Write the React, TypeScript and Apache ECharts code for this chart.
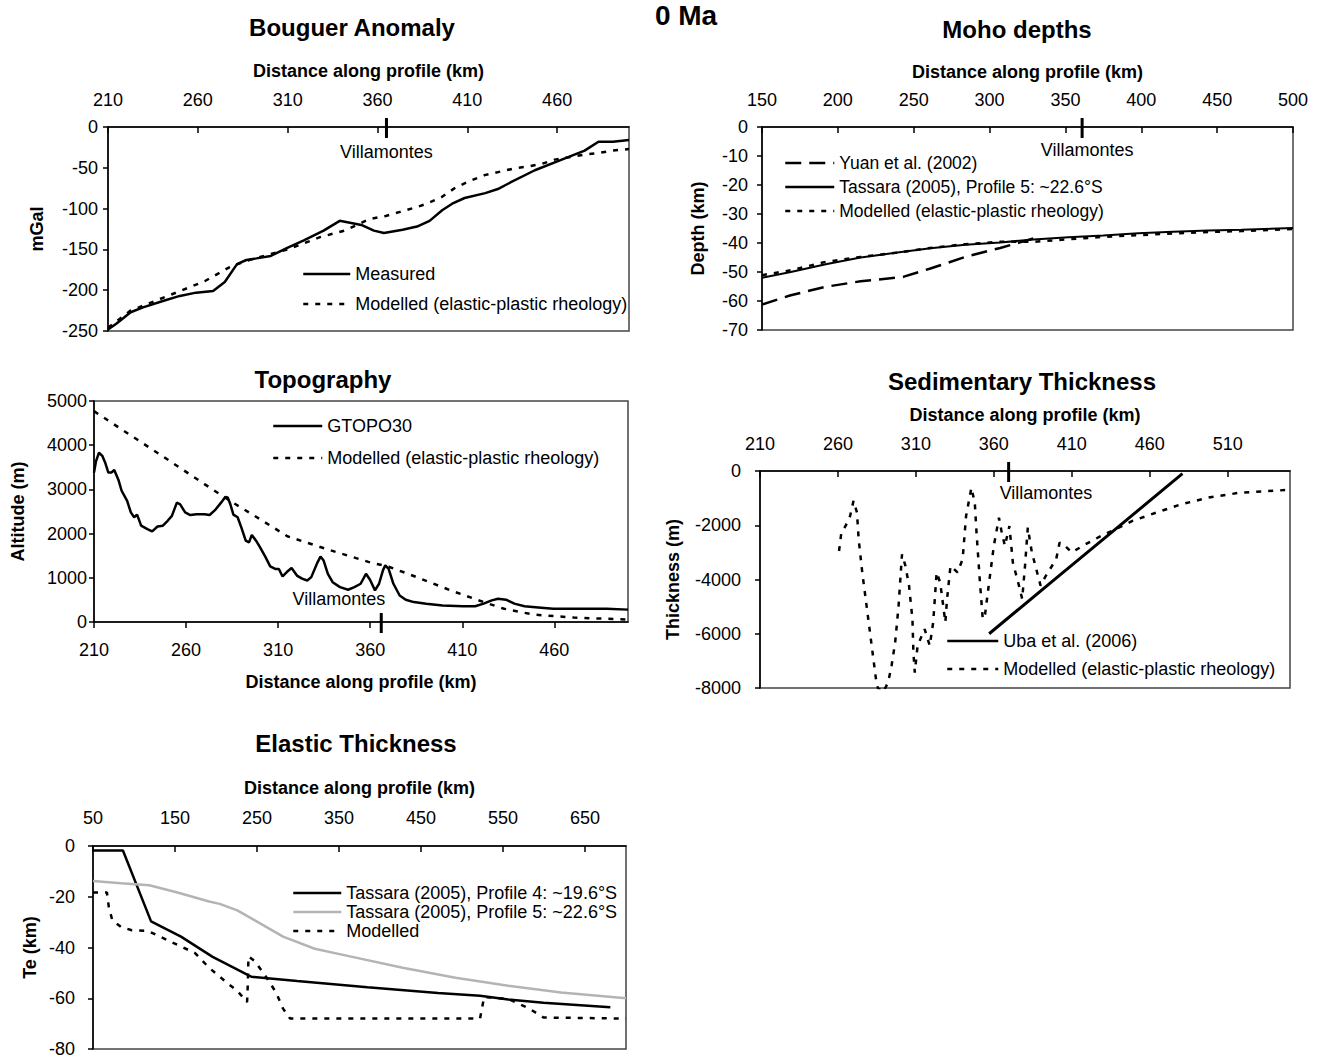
import React, { useEffect, useRef } from 'react';
import * as echarts from 'echarts';

const FONT = '"Liberation Sans", Arial, Helvetica, sans-serif';
const BLACK = '#000';

const MODELLED = 'Modelled (elastic-plastic rheology)';
const T5 = 'Tassara (2005), Profile 5: ~22.6°S';
const T4 = 'Tassara (2005), Profile 4: ~19.6°S';

// ---------------- Bouguer anomaly (km, mGal) ----------------
const bouguerMeasured = [
  [210, -248], [214.6, -241], [222.6, -227], [229.5, -221], [241, -213], [250, -207], [259, -203],
  [268.5, -201], [275, -190], [281.8, -168], [287, -163], [292.6, -161], [300.6, -158], [309.8, -148],
  [319, -139], [330, -127], [339, -115], [351, -120], [358, -127], [363.6, -130], [374, -126],
  [382, -122], [389, -115], [396, -102], [401.6, -94], [408.5, -87], [420, -81], [427, -76],
  [434, -68], [447.6, -53], [461.5, -41], [475.3, -29], [483, -18], [491, -18], [500, -16],
];
const bouguerModelled = [
  [210, -246], [222.6, -225], [245.6, -205], [263.8, -189], [277.5, -172], [287, -164], [310, -150],
  [328, -135], [341.7, -127], [355.4, -113], [364.6, -109], [372.6, -104], [380.6, -99], [387.5, -94],
  [395.6, -86], [403.6, -74], [411.6, -66], [419.6, -59], [427.7, -55], [435.7, -51], [444.9, -48],
  [451.7, -45], [458.6, -40], [466.6, -37], [474.7, -34], [482.7, -32], [490.7, -29], [500, -27],
];

// ---------------- Moho depths (km, km) ----------------
const mohoYuan = [
  [150, -61.2], [169, -58], [192, -55.1], [215, -53.2], [243, -51.7], [261, -48.8], [284, -44.8],
  [307, -41.7], [320, -39.8], [329, -38.4], [331, -37.6],
];
const mohoTassara = [
  [150, -52], [169, -50], [192, -47.3], [215, -45], [238, -43.4], [261, -41.8], [284, -40.6],
  [307, -39.8], [329, -38.8], [352, -38], [375, -37.4], [398, -36.6], [421, -36.1], [444, -35.7],
  [466, -35.4], [500, -34.8],
];
const mohoModelled = [
  [150, -51.1], [169, -49.4], [192, -46.5], [215, -44.8], [238, -43.4], [261, -41.7], [284, -40.4],
  [307, -39.6], [329, -39.6], [352, -38.7], [375, -37.9], [398, -37.3], [421, -36.7], [444, -36.2],
  [466, -35.9], [500, -35.2],
];

// ---------------- Topography (km, m) ----------------
const topoGtopo = [
  [210, 3380], [211.1, 3640], [212.7, 3830], [214.5, 3760], [216.2, 3590], [217.8, 3380], [219.4, 3380],
  [221, 3440], [223.4, 3200], [225, 2970], [228, 2740], [230, 2480], [231.8, 2370], [233.4, 2430],
  [235.6, 2180], [239, 2100], [241.6, 2050], [244.5, 2160], [247.4, 2180], [250, 2290], [252.3, 2400],
  [255, 2700], [256.8, 2660], [259.5, 2480], [262.3, 2420], [265.7, 2440], [270, 2440], [272.8, 2420],
  [275.7, 2530], [279, 2700], [281.3, 2830], [282.6, 2820], [284, 2670], [285.7, 2430], [288, 2370],
  [290, 2140], [292.4, 1840], [294.2, 1800], [295.7, 1970], [298, 1840], [300.2, 1690], [303, 1480],
  [305.7, 1260], [308.4, 1200], [310.4, 1200], [312.4, 1030], [314.7, 1130], [317.3, 1220], [320.2, 1050],
  [323, 980], [325.8, 940], [328, 1015], [331.4, 1350], [333, 1480], [334.7, 1390], [337, 1090],
  [339.6, 900], [343.6, 790], [348, 730], [351.4, 790], [354.8, 865], [357.7, 1090], [359.9, 955],
  [362.6, 715], [364.8, 865], [367, 1180], [368.2, 1280], [370, 1200], [372.6, 865], [376, 600],
  [379.3, 505], [383.7, 450], [390.4, 415], [399.3, 375], [410.4, 355], [417, 355], [421.6, 415],
  [426, 490], [429.4, 525], [433.8, 505], [438.3, 415], [443.8, 355], [452.8, 325], [459.4, 300],
  [470.6, 300], [488.4, 300], [500, 280],
];
const topoModelled = [
  [210, 4770], [226, 4330], [248, 3730], [270, 3120], [283.5, 2750], [300, 2330], [315, 1940],
  [337, 1640], [359, 1360], [370, 1250], [381.5, 1075], [403.7, 715], [421.6, 450], [432.7, 300],
  [448.3, 170], [470.6, 100], [500, 55],
];

// ---------------- Sedimentary thickness (km, m) ----------------
const sedUba = [
  [357, -6000], [400, -3950], [440, -2050], [481, -100],
];
const sedModelled = [
  [260.7, -2950], [262.2, -2270], [264.9, -2025], [267.8, -1660], [270, -1100], [272.2, -1530],
  [273.3, -2520], [275.6, -3740], [277.8, -4720], [280, -5700], [282.2, -6690], [284.4, -7670],
  [285.6, -8000], [289, -8150], [292.2, -7790], [294.4, -7180], [296.7, -6320], [298.9, -4970],
  [301.1, -3070], [303.3, -3500], [305.6, -4230], [307.8, -5460], [308.4, -6690], [309.3, -7430],
  [311.1, -6440], [315.6, -5830], [318.9, -6440], [321.1, -5580], [323.3, -3740], [325.6, -4110],
  [327.8, -5090], [328.9, -5580], [330, -4720], [332.2, -3500], [336.7, -3740], [340, -3250],
  [342.2, -1660], [345.6, -620], [347.8, -1170], [348.9, -2270], [351.1, -4110], [352.9, -5460],
  [354.4, -5280], [356.7, -4230], [360, -2760], [363.3, -1720], [364.9, -2210], [367.1, -2760],
  [370, -2030], [372.2, -3370], [376.7, -4350], [378.2, -4720], [380, -3500], [381.8, -2090],
  [384.4, -3000], [387.8, -3740], [390, -4230], [393, -3900], [400, -3250], [402.2, -2640],
  [405.6, -2760], [410, -3000], [418.9, -2700], [428.9, -2390], [437.8, -2150], [448.9, -1840],
  [464.4, -1530], [480, -1230], [497.8, -980], [517.8, -800], [548, -700],
];

// ---------------- Elastic thickness (km, km) ----------------
const teProfile4 = [
  [50, -1.8], [86.5, -1.8], [120.8, -29.7], [157.3, -35.7], [195.9, -43.7], [241, -51.2], [243, -51.5],
  [298.9, -53.2], [384.7, -55.7], [470.6, -57.9], [522, -59], [556.4, -60.5], [599.3, -61.8], [680.9, -63.5],
];
const teProfile5 = [
  [50, -13.8], [84.3, -14.7], [118.7, -15.5], [153, -18.3], [191.6, -21.9], [204.5, -22.8], [226, -25.4],
  [247.4, -29.3], [281.8, -35.7], [320.4, -40.5], [363.4, -43.5], [427.7, -48], [492.1, -51.9],
  [556.4, -55.1], [620.8, -57.7], [700, -60],
];
const teModelled = [
  [50, -18.3], [67, -18.3], [69.3, -24.1], [73.6, -29.3], [84.3, -31.9], [97.2, -33.2], [116.5, -33.4],
  [131.5, -35.7], [157.3, -39.6], [174.5, -42.2], [191.6, -48], [213, -53.8], [225.9, -57.1],
  [237.9, -61.5], [238.8, -54.5], [239.6, -43.5], [247.4, -45.4], [260.3, -51.2], [273.2, -57.7],
  [281.8, -64.1], [290.3, -68], [522, -68], [527, -59.5], [556.4, -60.3], [582.2, -64.1],
  [599.3, -67.6], [700, -68],
];

// Villamontes positions (km)
const villamontesKm = { bouguer: 365, moho: 361, topo: 366, sed: 369.5 };

const solidLine = { color: BLACK, width: 2.5, type: 'solid' };
const dottedLine = { color: BLACK, width: 2.5, type: [5, 7] };
const dashedLine = { color: BLACK, width: 2.5, type: [16, 8] };
const grayLine = { color: '#b4b4b4', width: 2.5, type: 'solid' };

function mkX(gridIndex: number, position: string, min: number, max: number, interval: number,
  margin: number, nameGap: number, showMaxLabel: boolean, inside: boolean) {
  return {
    type: 'value', gridIndex, position, min, max, interval,
    name: 'Distance along profile (km)', nameLocation: 'middle', nameGap,
    nameTextStyle: { fontFamily: FONT, fontSize: 18, fontWeight: 'bold', color: BLACK },
    axisLine: { show: true, onZero: false, lineStyle: { color: BLACK, width: 1.5 } },
    axisTick: { show: true, inside, length: 6, lineStyle: { color: BLACK, width: 1.5 } },
    axisLabel: {
      margin, fontFamily: FONT, fontSize: 18, color: BLACK, showMaxLabel, showMinLabel: true,
      formatter: (v: number) => String(v),
    },
    splitLine: { show: false },
  };
}

function mkY(gridIndex: number, min: number, max: number, interval: number, name: string,
  margin: number, nameGap: number) {
  return {
    type: 'value', gridIndex, position: 'left', min, max, interval,
    name, nameLocation: 'middle', nameGap, nameRotate: 90,
    nameTextStyle: { fontFamily: FONT, fontSize: 18, fontWeight: 'bold', color: BLACK },
    axisLine: { show: true, onZero: false, lineStyle: { color: BLACK, width: 1.5 } },
    axisTick: { show: true, inside: false, length: 5, lineStyle: { color: BLACK, width: 1.5 } },
    axisLabel: {
      margin, fontFamily: FONT, fontSize: 18, color: BLACK,
      formatter: (v: number) => String(v),
    },
    splitLine: { show: false },
  };
}

function villa(x: number, offset: number[], align: string) {
  return {
    silent: true,
    animation: false,
    data: [
      {
        coord: [x, 0], symbol: 'rect', symbolSize: [3, 20], symbolOffset: [0, 1],
        itemStyle: { color: BLACK }, label: { show: false },
      },
      {
        coord: [x, 0], symbol: 'circle', symbolSize: 1,
        itemStyle: { color: 'rgba(0,0,0,0)' },
        label: {
          show: true, position: 'inside', formatter: 'Villamontes', offset, align,
          verticalAlign: 'middle', fontFamily: FONT, fontSize: 18, color: BLACK,
        },
      },
    ],
  };
}

function line(name: string, xi: number, data: number[][], style: any, extra: any = {}) {
  return {
    type: 'line', name, xAxisIndex: xi, yAxisIndex: xi, data,
    symbol: 'none', showSymbol: false, clip: true,
    lineStyle: style, itemStyle: { color: style.color },
    emphasis: { disabled: true },
    z: 3,
    ...extra,
  };
}

function legend(left: number, top: number, itemWidth: number, itemGap: number, fontSize: number,
  items: { name: string; style: any }[]) {
  return {
    orient: 'vertical', left, top, itemWidth, itemHeight: 14, itemGap, padding: 0,
    selectedMode: false,
    textStyle: { fontFamily: FONT, fontSize, color: BLACK },
    itemStyle: { opacity: 0 },
    data: items.map((it) => ({
      name: it.name,
      lineStyle: { color: it.style.color, width: it.style.width, type: it.style.type, opacity: 1 },
      itemStyle: { opacity: 0, color: 'rgba(0,0,0,0)', borderWidth: 0 },
    })),
  };
}

export default function App() {
  const ref = useRef<HTMLDivElement>(null);

  useEffect(() => {
    if (!ref.current) return;
    const chart = echarts.init(ref.current, null, { renderer: 'svg' });

    const gridBase = { show: true, borderColor: '#444', borderWidth: 1.5, backgroundColor: 'transparent' };
    const titleStyle = { fontFamily: FONT, fontSize: 24, fontWeight: 'bold', color: BLACK };

    const option: any = {
      animation: false,
      backgroundColor: '#fff',
      title: [
        { text: 'Bouguer Anomaly', left: 352, top: 15, textAlign: 'center', padding: 0, textStyle: titleStyle },
        { text: '0 Ma', left: 686, top: 1, textAlign: 'center', padding: 0, textStyle: { ...titleStyle, fontSize: 28 } },
        { text: 'Moho depths', left: 1017, top: 17, textAlign: 'center', padding: 0, textStyle: titleStyle },
        { text: 'Topography', left: 323, top: 367, textAlign: 'center', padding: 0, textStyle: titleStyle },
        { text: 'Sedimentary Thickness', left: 1022, top: 369, textAlign: 'center', padding: 0, textStyle: titleStyle },
        { text: 'Elastic Thickness', left: 356, top: 731, textAlign: 'center', padding: 0, textStyle: titleStyle },
      ],
      grid: [
        { ...gridBase, left: 108, top: 127, width: 521, height: 204 },
        { ...gridBase, left: 762, top: 127, width: 531, height: 203 },
        { ...gridBase, left: 94, top: 401, width: 534, height: 221 },
        { ...gridBase, left: 760, top: 471, width: 530, height: 217 },
        { ...gridBase, left: 93, top: 846, width: 533, height: 204 },
      ],
      xAxis: [
        mkX(0, 'top', 210, 500, 50, 18, 47, false, true),
        mkX(1, 'top', 150, 500, 50, 18, 46, true, true),
        mkX(2, 'bottom', 210, 500, 50, 19, 51, false, false),
        mkX(3, 'top', 210, 550, 50, 18, 47, false, true),
        mkX(4, 'top', 50, 700, 100, 19, 49, false, true),
      ],
      yAxis: [
        mkY(0, -250, 0, 50, 'mGal', 10, 62),
        mkY(1, -70, 0, 10, 'Depth (km)', 14, 55),
        mkY(2, 0, 5000, 1000, 'Altitude (m)', 7, 67),
        mkY(3, -8000, 0, 2000, 'Thickness (m)', 19, 78),
        mkY(4, -80, 0, 20, 'Te (km)', 18, 54),
      ],
      legend: [
        legend(302, 265, 47, 12, 18, [
          { name: 'Measured', style: solidLine },
          { name: MODELLED, style: dottedLine },
        ]),
        legend(784, 154, 49, 6, 17.5, [
          { name: 'Yuan et al. (2002)', style: dashedLine },
          { name: T5, style: solidLine },
          { name: MODELLED, style: dottedLine },
        ]),
        legend(272, 417, 49, 14, 18, [
          { name: 'GTOPO30', style: solidLine },
          { name: MODELLED, style: dottedLine },
        ]),
        legend(946, 632, 51, 10, 18, [
          { name: 'Uba et al. (2006)', style: solidLine },
          { name: MODELLED, style: dottedLine },
        ]),
        legend(292, 884, 48, 1, 18, [
          { name: T4, style: solidLine },
          { name: T5, style: grayLine },
          { name: 'Modelled', style: dottedLine },
        ]),
      ],
      series: [
        line('Measured', 0, bouguerMeasured, solidLine, { markPoint: villa(villamontesKm.bouguer, [0, 25], 'center') }),
        line(MODELLED, 0, bouguerModelled, dottedLine),

        line('Yuan et al. (2002)', 1, mohoYuan, dashedLine, { markPoint: villa(villamontesKm.moho, [5, 23], 'center') }),
        line(T5, 1, mohoTassara, { ...solidLine, width: 2 }),
        line(MODELLED, 1, mohoModelled, dottedLine),

        line('GTOPO30', 2, topoGtopo, solidLine, { markPoint: villa(villamontesKm.topo, [4, -23], 'right') }),
        line(MODELLED, 2, topoModelled, dottedLine),

        line('Uba et al. (2006)', 3, sedUba, { ...solidLine, width: 3 }, { markPoint: villa(villamontesKm.sed, [-9, 22], 'left') }),
        line(MODELLED, 3, sedModelled, dottedLine),

        line(T4, 4, teProfile4, solidLine),
        line(T5, 4, teProfile5, grayLine),
        line('Modelled', 4, teModelled, dottedLine),
      ],
    };

    chart.setOption(option);
    return () => {
      chart.dispose();
    };
  }, []);

  return (
    <div
      ref={ref}
      style={{ position: 'absolute', left: 0, top: 0, width: 1322, height: 1058, background: '#fff' }}
    />
  );
}
